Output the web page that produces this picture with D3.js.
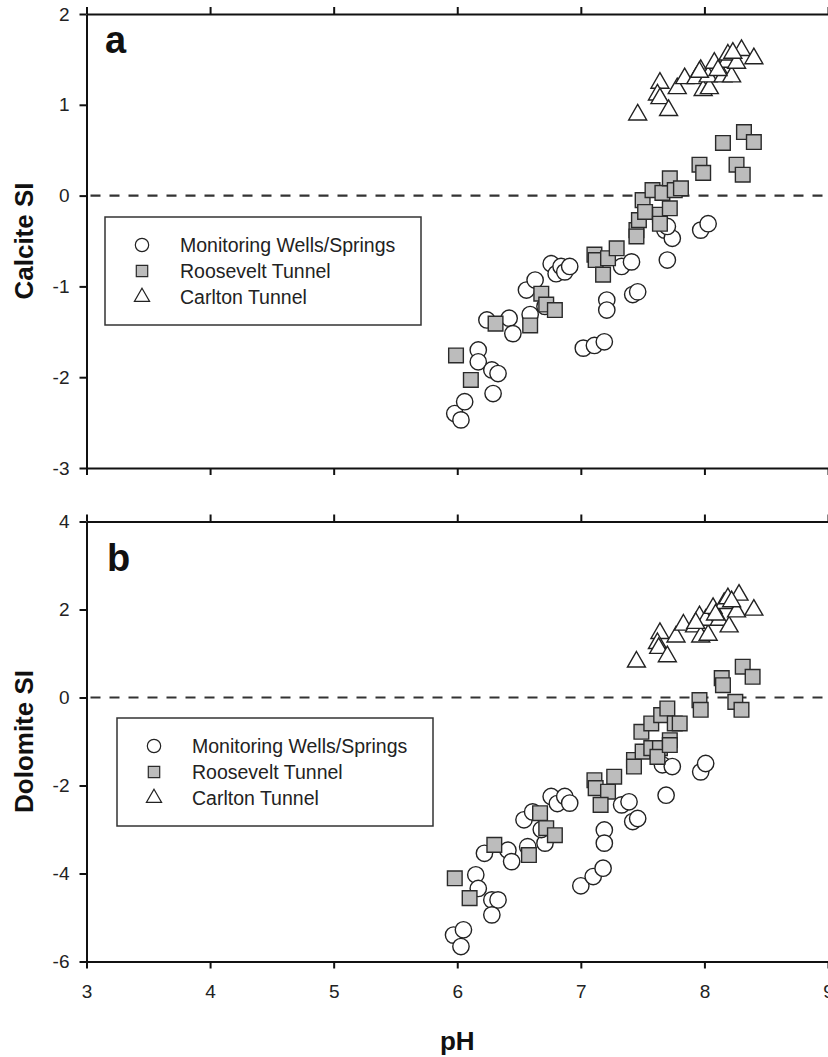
<!DOCTYPE html>
<html>
<head>
<meta charset="utf-8">
<script src="https://cdn.jsdelivr.net/npm/d3@7"></script>
<style>
  body { margin: 0; background: #fff; }
  svg { display: block; font-family: "Liberation Sans", Arial, sans-serif; }
  .axis path, .axis line { stroke: #111; stroke-width: 2; }
  .axis text { font-family: "Liberation Sans", Arial, sans-serif; font-size: 19px; fill: #222; }
</style>
</head>
<body>
<svg id="chart" width="828" height="1057"></svg>
<script>
// pH ticks shared by both panels
const phTicks = [3, 4, 5, 6, 7, 8, 9];
const calciteTicks = [-3, -2, -1, 0, 1, 2];
const dolomiteTicks = [-6, -4, -2, 0, 2, 4];
const legendNames = ["Monitoring Wells/Springs", "Roosevelt Tunnel", "Carlton Tunnel"];

// [pH, SI]
const calciteWells = [[5.98,-2.40],[6.03,-2.47],[6.06,-2.27],[6.17,-1.70],[6.17,-1.83],[6.28,-1.92],[6.33,-1.96],[6.29,-2.18],[6.24,-1.37],[6.42,-1.35],[6.45,-1.52],[6.59,-1.31],[6.56,-1.04],[6.63,-0.93],[6.71,-1.22],[6.76,-0.75],[6.80,-0.86],[6.84,-0.78],[6.87,-0.84],[6.91,-0.78],[7.02,-1.68],[7.11,-1.65],[7.19,-1.61],[7.21,-1.15],[7.21,-1.26],[7.33,-0.78],[7.41,-0.73],[7.42,-1.09],[7.46,-1.06],[7.68,-0.38],[7.70,-0.71],[7.74,-0.47],[7.70,-0.34],[7.97,-0.38],[8.03,-0.31]];
const calciteRoosevelt = [[5.99,-1.76],[6.11,-2.03],[6.31,-1.41],[6.59,-1.43],[6.68,-1.08],[6.72,-1.20],[6.79,-1.26],[7.11,-0.65],[7.12,-0.71],[7.22,-0.69],[7.29,-0.58],[7.18,-0.87],[7.45,-0.38],[7.45,-0.45],[7.47,-0.27],[7.50,-0.05],[7.52,-0.18],[7.58,0.06],[7.64,-0.21],[7.64,-0.31],[7.66,0.03],[7.72,0.19],[7.72,-0.14],[7.76,0.06],[7.81,0.08],[7.96,0.34],[7.99,0.25],[8.15,0.58],[8.26,0.34],[8.31,0.23],[8.32,0.70],[8.40,0.59]];
const calciteCarlton = [[7.46,0.89],[7.64,1.24],[7.62,1.11],[7.64,1.07],[7.71,0.94],[7.78,1.18],[7.84,1.29],[7.93,1.29],[7.97,1.38],[7.99,1.16],[8.04,1.18],[8.03,1.31],[8.08,1.46],[8.15,1.31],[8.18,1.47],[8.19,1.55],[8.22,1.31],[8.26,1.46],[8.30,1.60],[8.23,1.57],[8.40,1.51],[8.11,1.38],[7.96,1.36]];

const dolomiteWells = [[5.97,-5.40],[6.03,-5.66],[6.05,-5.28],[6.15,-4.03],[6.17,-4.34],[6.28,-4.60],[6.33,-4.60],[6.28,-4.94],[6.22,-3.54],[6.41,-3.47],[6.44,-3.73],[6.57,-3.39],[6.54,-2.78],[6.61,-2.60],[6.71,-3.31],[6.68,-3.00],[6.76,-2.25],[6.81,-2.41],[6.87,-2.25],[6.91,-2.40],[7.00,-4.28],[7.10,-4.07],[7.18,-3.88],[7.19,-3.01],[7.19,-3.31],[7.33,-2.44],[7.39,-2.37],[7.42,-2.82],[7.46,-2.75],[7.66,-1.53],[7.69,-2.22],[7.74,-1.57],[7.97,-1.69],[8.01,-1.50]];
const dolomiteRoosevelt = [[5.98,-4.11],[6.10,-4.56],[6.30,-3.35],[6.58,-3.58],[6.67,-2.63],[6.72,-2.97],[6.79,-3.13],[7.11,-1.88],[7.12,-2.06],[7.22,-2.14],[7.27,-1.80],[7.16,-2.44],[7.43,-1.42],[7.43,-1.57],[7.49,-0.78],[7.50,-1.23],[7.57,-0.59],[7.57,-1.15],[7.64,-1.15],[7.62,-1.35],[7.65,-0.40],[7.70,-0.25],[7.72,-0.97],[7.72,-1.08],[7.76,-0.59],[7.80,-0.59],[7.96,-0.06],[7.97,-0.28],[8.14,0.44],[8.15,0.28],[8.25,-0.10],[8.30,-0.28],[8.31,0.70],[8.39,0.47]];
const dolomiteCarlton = [[7.45,0.81],[7.64,1.46],[7.62,1.23],[7.63,1.12],[7.70,0.93],[7.77,1.38],[7.83,1.65],[7.92,1.61],[7.96,1.84],[7.97,1.38],[8.03,1.42],[8.01,1.76],[8.07,2.03],[8.12,1.76],[8.16,2.14],[8.19,2.25],[8.20,1.61],[8.26,1.95],[8.28,2.33],[8.22,2.18],[8.40,1.99],[8.09,1.88],[7.93,1.69]];

const svg = d3.select("#chart");
const x = d3.scaleLinear().domain([3, 9]).range([86.5, 828]);

// marker styles: circle, grey square, triangle
const markers = [
    { type: d3.symbolCircle, size: 210, fill: "#fff", stroke: "#222" },
    { type: d3.symbolSquare, size: 215, fill: "#bcbcbc", stroke: "#2a2a2a" },
    { type: d3.symbolTriangle, size: 140, fill: "#fff", stroke: "#222" }
];

// plain hyphen for negatives, like the original
const plain = d => String(d);

function panel(opts) {
    const y = d3.scaleLinear().domain(opts.domain).range(opts.range);
    const g = svg.append("g");

    // zero line
    g.append("line")
        .attr("x1", x(3) + 4).attr("x2", x(9))
        .attr("y1", y(0)).attr("y2", y(0))
        .attr("stroke", "#333").attr("stroke-width", 2.2)
        .attr("stroke-dasharray", "10,9");

    // points
    opts.series.forEach((data, i) => {
        const m = markers[i];
        g.append("g").selectAll("path")
            .data(data)
            .enter().append("path")
            .attr("transform", d => `translate(${x(d[0])},${y(d[1])})`)
            .attr("d", d3.symbol().type(m.type).size(m.size))
            .attr("fill", m.fill)
            .attr("stroke", m.stroke)
            .attr("stroke-width", 1.4);
    });

    // axes
    g.append("g").attr("class", "axis")
        .attr("transform", `translate(${x(3)},0)`)
        .call(d3.axisLeft(y).tickValues(opts.ticks).tickSize(7).tickPadding(10).tickSizeOuter(0).tickFormat(plain));
    g.append("g").attr("class", "axis")
        .attr("transform", `translate(0,${opts.range[1]})`)
        .call(d3.axisTop(x).tickValues(phTicks).tickSize(7).tickSizeOuter(0).tickFormat(""));
    g.append("g").attr("class", "axis")
        .attr("transform", `translate(0,${opts.range[0]})`)
        .call(d3.axisBottom(x).tickValues(phTicks).tickSize(7).tickPadding(16).tickSizeOuter(0)
            .tickFormat(opts.xLabels ? plain : ""));

    // panel letter
    g.append("text")
        .attr("x", opts.letterX).attr("y", opts.range[1] + opts.letterDy)
        .attr("font-size", 38).attr("font-weight", "bold").attr("fill", "#111")
        .text(opts.letter);

    // y label
    const mid = (opts.range[0] + opts.range[1]) / 2;
    g.append("text")
        .attr("transform", `translate(33,${mid}) rotate(-90)`)
        .attr("text-anchor", "middle")
        .attr("font-size", 26).attr("font-weight", "bold").attr("fill", "#111")
        .text(opts.label);

    // legend
    const lg = g.append("g").attr("transform", `translate(${opts.legend[0]},${opts.legend[1]})`);
    lg.append("rect")
        .attr("width", 316).attr("height", 108)
        .attr("fill", "#fff").attr("stroke", "#333").attr("stroke-width", 1.5);
    const rows = lg.selectAll("g.row")
        .data(legendNames)
        .enter().append("g")
        .attr("class", "row")
        .attr("transform", (d, i) => `translate(0,${28 + i * 26})`);
    rows.append("path")
        .attr("transform", "translate(37,0)")
        .attr("d", (d, i) => d3.symbol().type(markers[i].type).size([140, 130, 100][i])())
        .attr("fill", (d, i) => markers[i].fill)
        .attr("stroke", (d, i) => markers[i].stroke)
        .attr("stroke-width", 1.2);
    rows.append("text")
        .attr("x", 75).attr("y", 7)
        .attr("font-size", 19.5).attr("fill", "#222")
        .text(d => d);
}

panel({
    domain: [-3, 2], range: [468, 14], ticks: calciteTicks,
    series: [calciteWells, calciteRoosevelt, calciteCarlton],
    letter: "a", letterX: 105, letterDy: 39, label: "Calcite SI",
    legend: [105, 217], xLabels: false
});

panel({
    domain: [-6, 4], range: [961.5, 521.5], ticks: dolomiteTicks,
    series: [dolomiteWells, dolomiteRoosevelt, dolomiteCarlton],
    letter: "b", letterX: 107, letterDy: 49, label: "Dolomite SI",
    legend: [117, 718], xLabels: true
});

// x label
svg.append("text")
    .attr("x", x(6)).attr("y", 1050)
    .attr("text-anchor", "middle")
    .attr("font-size", 26).attr("font-weight", "bold").attr("fill", "#111")
    .text("pH");
</script>
</body>
</html>
